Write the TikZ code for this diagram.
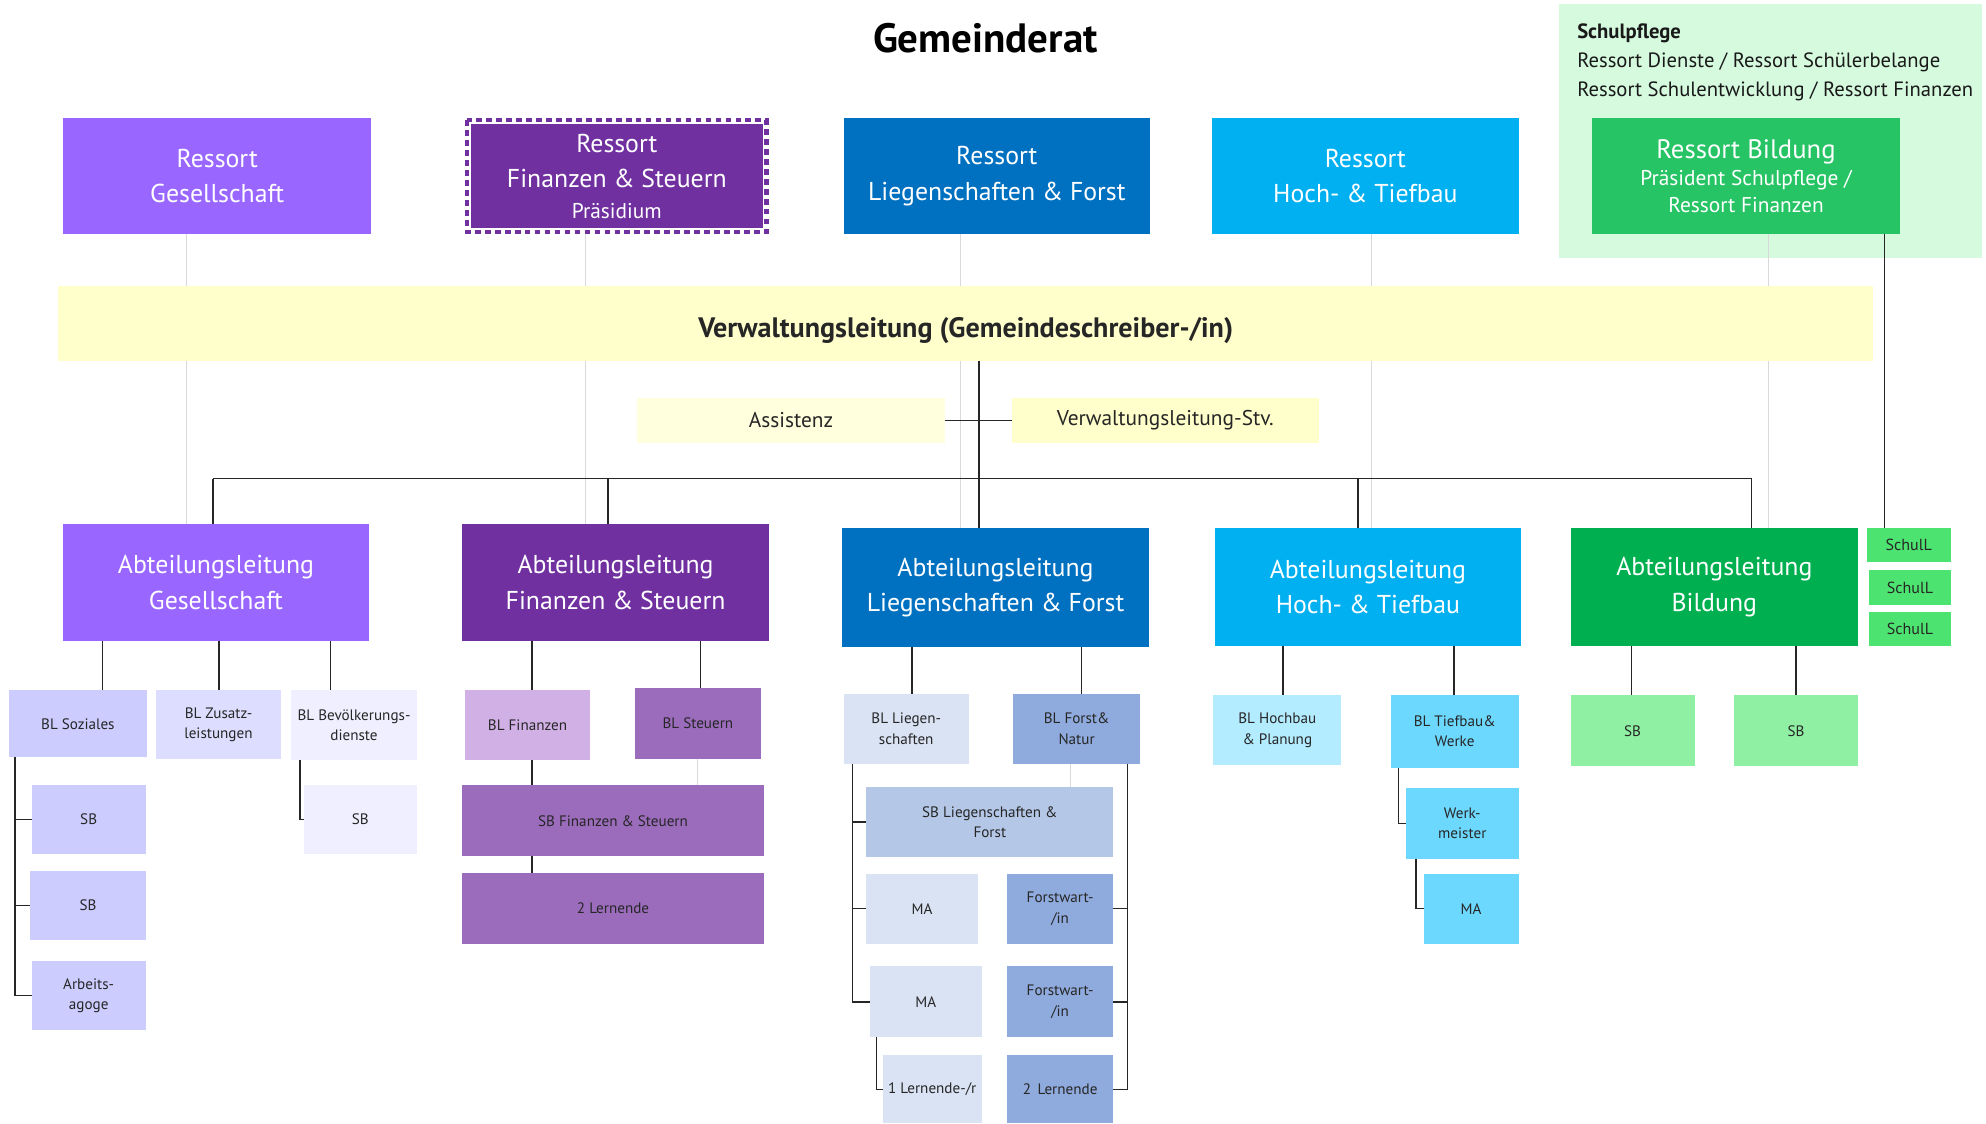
\documentclass[tikz,border=0pt]{standalone}
\usepackage{fontspec}
\setmainfont{PT Sans}
\usetikzlibrary{backgrounds}
\definecolor{cViolet}{RGB}{153,102,255}
\definecolor{cPurple}{RGB}{112,48,160}
\definecolor{cBlue}{RGB}{0,112,192}
\definecolor{cCyan}{RGB}{0,176,240}
\definecolor{cGreen}{RGB}{38,196,100}
\definecolor{cDkGreen}{RGB}{0,176,80}
\definecolor{cSchulL}{RGB}{77,227,112}
\definecolor{cSbGreen}{RGB}{143,240,163}
\definecolor{cPflege}{RGB}{214,250,222}
\definecolor{cYellow}{RGB}{255,255,204}
\definecolor{cYellowLt}{RGB}{255,255,221}
\definecolor{cLav}{RGB}{204,204,255}
\definecolor{cLavLt}{RGB}{221,221,255}
\definecolor{cLavXl}{RGB}{239,239,255}
\definecolor{cLilac}{RGB}{209,176,230}
\definecolor{cMauve}{RGB}{155,108,187}
\definecolor{cIce}{RGB}{218,227,243}
\definecolor{cSteel}{RGB}{143,170,220}
\definecolor{cSteelLt}{RGB}{180,199,231}
\definecolor{cSky}{RGB}{179,235,255}
\definecolor{cSkyMd}{RGB}{109,216,254}
\definecolor{cLine}{RGB}{217,217,217}
\tikzset{
  span/.style args={#1/#2/#3/#4}{at={({(#1+#3)/2},{(#2+#4)/2})},
                  minimum width={(#3-#1)*0.25mm},minimum height={(#4-#2)*0.25mm}},
  basebox/.style={rectangle,inner sep=0pt,outer sep=0pt,align=center,
                  text=black!85,font=\fontsize{8.5}{11.5}\selectfont},
  ressortnode/.style={basebox,text=white,font=\fontsize{14.5}{20}\selectfont},
  abtnode/.style={ressortnode},
  yelnode/.style={basebox,font=\fontsize{12}{14}\selectfont},
  schulnode/.style={basebox,fill=cSchulL,font=\fontsize{9}{11}\selectfont},
  conn/.style={line width=0.8pt,color=black!85},
  faint/.style={line width=0.6pt,color=cLine}
}

\begin{document}
\begin{tikzpicture}[x=0.25mm,y=-0.25mm]
  \useasboundingbox (0,0) rectangle (1568,887);

  % Gemeinderat und Schulpflege
  \node[font=\bfseries\fontsize{23}{27}\selectfont] (title) at (778,30) {Gemeinderat};
  \node[basebox,fill=cPflege,span=1231/3/1565/204] (pflege) {};
  \node[anchor=north west,align=left,inner sep=0pt,text=black!90,
        font=\fontsize{11.6}{16.4}\selectfont] (pflegeTxt) at (1245,18.5)
      {\textbf{Schulpflege}\\Ressort Dienste / Ressort Schülerbelange\\
       Ressort Schulentwicklung / Ressort Finanzen};

  % Ressorts
  \node[ressortnode,fill=cViolet,span=50/93/293/185] (rGes) {Ressort\\Gesellschaft};
  \node[ressortnode,span=367/93/607/185] (rFin)
      {Ressort\\Finanzen \& Steuern\\[-3pt]{\fontsize{12}{13}\selectfont Präsidium}};
  \begin{scope}[on background layer]
    \fill[cPurple] ([shift={(3.4pt,-3.4pt)}]rFin.north west)
        rectangle ([shift={(-3.4pt,3.4pt)}]rFin.south east);
    \draw[cPurple,line width=2.6pt,dash pattern=on 3.2pt off 2.4pt]
        ([shift={(1.3pt,-1.3pt)}]rFin.north west) rectangle ([shift={(-1.3pt,1.3pt)}]rFin.south east);
  \end{scope}
  \node[ressortnode,fill=cBlue,span=666/93/908/185] (rLuF) {Ressort\\Liegenschaften \& Forst};
  \node[ressortnode,fill=cCyan,span=957/93/1199/185] (rHuT) {Ressort\\Hoch- \& Tiefbau};
  \node[ressortnode,fill=cGreen,span=1257/93/1500/185,font=\fontsize{12}{15}\selectfont] (rBil)
      {{\fontsize{15}{18}\selectfont Ressort Bildung}\\Präsident Schulpflege /\\Ressort Finanzen};

  % Verwaltungsleitung
  \node[basebox,fill=cYellow,span=46/226/1479/285,
        font=\bfseries\fontsize{15.8}{18}\selectfont] (vl)
      {\raisebox{-4pt}[\height][\depth]{Verwaltungsleitung (Gemeindeschreiber-/in)}};
  \node[yelnode,fill=cYellowLt,span=503/314/746/350] (assist) {Assistenz};
  \node[yelnode,fill=cYellow,span=799/314/1041/350] (stv) {Verwaltungsleitung-Stv.};

  % Abteilungsleitungen
  \node[abtnode,fill=cViolet,span=50/414/291/506] (aGes) {Abteilungsleitung\\Gesellschaft};
  \node[abtnode,fill=cPurple,span=365/414/607/506] (aFin) {Abteilungsleitung\\Finanzen \& Steuern};
  \node[abtnode,fill=cBlue,span=665/417/907/511] (aLuF) {Abteilungsleitung\\Liegenschaften \& Forst};
  \node[abtnode,fill=cCyan,span=959/417/1201/510] (aHuT) {Abteilungsleitung\\Hoch- \& Tiefbau};
  \node[abtnode,fill=cDkGreen,span=1240/417/1467/510] (aBil) {Abteilungsleitung\\Bildung};
  \node[schulnode,span=1474/417/1540/444] (schul1) {SchulL};
  \node[schulnode,span=1476/450/1540/478] (schul2) {SchulL};
  \node[schulnode,span=1476/483/1540/510] (schul3) {SchulL};

  % Gesellschaft
  \node[basebox,fill=cLav,span=7/545/116/598] (blSoz) {BL Soziales};
  \node[basebox,fill=cLavLt,span=123/545/222/599] (blZus) {BL Zusatz-\\leistungen};
  \node[basebox,fill=cLavXl,span=230/545/329/600] (blBev) {BL Bevölkerungs-\\dienste};
  \node[basebox,fill=cLav,span=25/620/115/674] (sbSoz1) {SB};
  \node[basebox,fill=cLav,span=24/688/115/742] (sbSoz2) {SB};
  \node[basebox,fill=cLav,span=25/759/115/813] (agoge) {Arbeits-\\agoge};
  \node[basebox,fill=cLavXl,span=240/620/329/674] (sbBev) {SB};

  % Finanzen
  \node[basebox,fill=cLilac,span=367/545/466/600] (blFin) {BL Finanzen};
  \node[basebox,fill=cMauve,span=501/543/601/599] (blSt) {BL Steuern};
  \node[basebox,fill=cMauve,span=365/620/603/676] (sbFin) {SB Finanzen \& Steuern};
  \node[basebox,fill=cMauve,span=365/689/603/745] (lernFin) {2 Lernende};

  % Liegenschaften
  \node[basebox,fill=cIce,span=666/548/765/603] (blLie) {BL Liegen-\\schaften};
  \node[basebox,fill=cSteel,span=800/548/900/603] (blFor) {BL Forst\&\\Natur};
  \node[basebox,fill=cSteelLt,span=684/621/879/677] (sbLuF) {SB Liegenschaften \&\\Forst};
  \node[basebox,fill=cIce,span=684/690/772/745] (ma1) {MA};
  \node[basebox,fill=cSteel,span=795/690/879/745] (fw1) {Forstwart-\\/in};
  \node[basebox,fill=cIce,span=687/763/775/819] (ma2) {MA};
  \node[basebox,fill=cSteel,span=795/763/879/819] (fw2) {Forstwart-\\/in};
  \node[basebox,fill=cIce,span=697/833/775/887] (lern1) {1 Lernende-/r};
  \node[basebox,fill=cSteel,span=795/833/879/887] (lern2) {2\, Lernende};

  % Hoch- und Tiefbau
  \node[basebox,fill=cSky,span=958/549/1059/604] (blHoch) {BL Hochbau\\\& Planung};
  \node[basebox,fill=cSkyMd,span=1098/549/1199/606] (blTief) {BL Tiefbau\&\\Werke};
  \node[basebox,fill=cSkyMd,span=1110/622/1199/678] (werk) {Werk-\\meister};
  \node[basebox,fill=cSkyMd,span=1124/690/1199/745] (maT) {MA};

  % Bildung
  \node[basebox,fill=cSbGreen,span=1240/549/1338/605] (sbB1) {SB};
  \node[basebox,fill=cSbGreen,span=1369/549/1467/605] (sbB2) {SB};

  % graue Linien Ressort -> Abteilung
  \foreach \lx/\rs/\ab in {147/rGes/aGes,462/rFin/aFin,758/rLuF/aLuF,1083/rHuT/aHuT,1396/rBil/aBil}{
    \draw[faint] (\rs.south -| \lx,0) -- (vl.north -| \lx,0);
    \draw[faint] (vl.south -| \lx,0) -- (\ab.north -| \lx,0);
  }
  \draw[faint] (blSt.south -| 551,0) -- (sbFin.north -| 551,0);
  \draw[faint] (blFor.south -| 845,0) -- (sbLuF.north -| 845,0);

  % Linienorganisation
  \draw[conn] (rBil.south -| 1488,0) -- (schul1.north -| 1488,0);
  \draw[conn] (vl.south -| 773,0) -- (aLuF.north -| 773,0);
  \draw[conn] (assist.east) -- (stv.west);
  \coordinate (busW) at (168,378);
  \coordinate (busE) at (1383,378);
  \draw[conn] (busW) -- (busE);
  \foreach \bx/\ab in {168/aGes,480/aFin,1072/aHuT,1383/aBil}
    \draw[conn] (\bx,378) -- (\ab.north -| \bx,0);

  \draw[conn] (aGes.south -| 81,0) -- (blSoz.north -| 81,0);
  \draw[conn] (aGes.south -| 173,0) -- (blZus.north -| 173,0);
  \draw[conn] (aGes.south -| 261,0) -- (blBev.north -| 261,0);
  \draw[conn] (blSoz.south -| 12,0) |- (sbSoz1.west);
  \draw[conn] (blSoz.south -| 12,0) |- (sbSoz2.west);
  \draw[conn] (blSoz.south -| 12,0) |- (agoge.west);
  \draw[conn] (blBev.south -| 237,0) |- (sbBev.west);

  \draw[conn] (aFin.south -| 420,0) -- (blFin.north -| 420,0);
  \draw[conn] (aFin.south -| 553,0) -- (blSt.north -| 553,0);
  \draw[conn] (blFin.south -| 420,0) -- (sbFin.north -| 420,0);
  \draw[conn] (sbFin.south -| 420,0) -- (lernFin.north -| 420,0);

  \draw[conn] (aLuF.south -| 720,0) -- (blLie.north -| 720,0);
  \draw[conn] (aLuF.south -| 854,0) -- (blFor.north -| 854,0);
  \draw[conn] (blLie.south -| 673,0) |- (sbLuF.west);
  \draw[conn] (blLie.south -| 673,0) |- (ma1.west);
  \draw[conn] (blLie.south -| 673,0) |- (ma2.west);
  \draw[conn] (ma2.south -| 692,0) |- (lern1.west);
  \draw[conn] (blFor.south -| 890,0) |- (fw1.east);
  \draw[conn] (blFor.south -| 890,0) |- (fw2.east);
  \draw[conn] (blFor.south -| 890,0) |- (lern2.east);

  \draw[conn] (aHuT.south -| 1013,0) -- (blHoch.north -| 1013,0);
  \draw[conn] (aHuT.south -| 1148,0) -- (blTief.north -| 1148,0);
  \draw[conn] (blTief.south -| 1104,0) |- (werk.west);
  \draw[conn] (werk.south -| 1118,0) |- (maT.west);

  \draw[conn] (aBil.south -| 1288,0) -- (sbB1.north -| 1288,0);
  \draw[conn] (aBil.south -| 1418,0) -- (sbB2.north -| 1418,0);

\end{tikzpicture}
\end{document}
